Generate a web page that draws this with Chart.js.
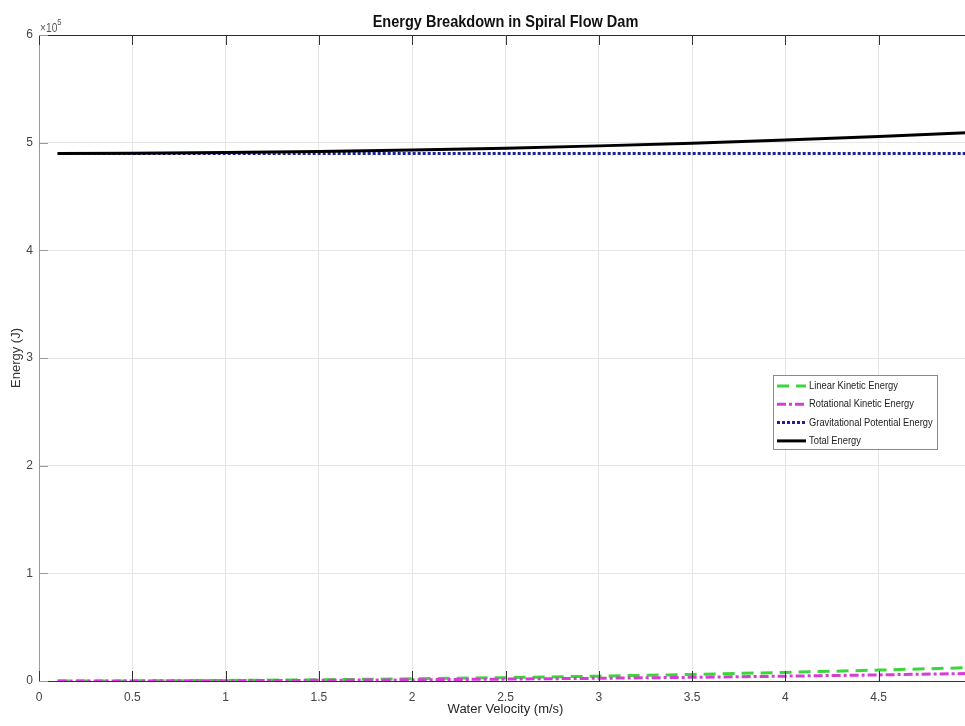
<!DOCTYPE html>
<html>
<head>
<meta charset="utf-8">
<script src="https://cdn.jsdelivr.net/npm/chart.js@4.4.1/dist/chart.umd.min.js"></script>
<style>
  html, body { margin: 0; padding: 0; background: #fff; overflow: hidden; }
  #wrap { width: 1010px; height: 726px; position: relative; }
</style>
</head>
<body>
<div id="wrap"><canvas id="energyChart"></canvas></div>
<script>
// water velocity (m/s)
const velocity = [0.1, 0.5, 1.0, 1.5, 2.0, 2.5, 3.0, 3.5, 4.0, 4.5, 5.0];
// energies (J)
const linearKE = [5, 125, 500, 1125, 2000, 3125, 4500, 6125, 8000, 10125, 12500];
const rotationalKE = [3, 70, 280, 630, 1120, 1750, 2520, 3430, 4480, 5670, 7000];
const potentialE = [490000, 490000, 490000, 490000, 490000, 490000, 490000, 490000, 490000, 490000, 490000];
const totalE = [490008, 490195, 490780, 491755, 493120, 494875, 497020, 499555, 502480, 505795, 509500];

const seriesNames = ['Linear Kinetic Energy', 'Rotational Kinetic Energy', 'Gravitational Potential Energy', 'Total Energy'];
const xTicks = [0, 0.5, 1, 1.5, 2, 2.5, 3, 3.5, 4, 4.5, 5];
const yTicks = [0, 1, 2, 3, 4, 5, 6];

const SANS = '"Liberation Sans", Arial, sans-serif';

const pairs = (ys) => velocity.map((v, i) => ({ x: v, y: ys[i] }));

// text squeezed horizontally, the figure uses a condensed face
function narrowText(ctx, text, x, y, squeeze) {
  ctx.save();
  ctx.translate(x, y);
  ctx.scale(squeeze, 1);
  ctx.fillText(text, 0, 0);
  ctx.restore();
}

const matlabFrame = {
  id: 'matlabFrame',
  afterDraw(chart) {
    const ctx = chart.ctx;
    const area = chart.chartArea;
    const xs = chart.scales.x;
    const ys = chart.scales.y;
    ctx.save();

    // top box edge
    ctx.strokeStyle = '#2b2b2b';
    ctx.lineWidth = 1;
    ctx.beginPath();
    ctx.moveTo(area.left, area.top + 0.5);
    ctx.lineTo(area.right, area.top + 0.5);
    ctx.stroke();

    // inward ticks
    ctx.strokeStyle = '#333';
    xTicks.forEach(t => {
      const px = Math.round(xs.getPixelForValue(t)) + 0.5;
      ctx.beginPath();
      ctx.moveTo(px, area.bottom); ctx.lineTo(px, area.bottom - 10);
      ctx.moveTo(px, area.top); ctx.lineTo(px, area.top + 10);
      ctx.stroke();
    });
    ctx.strokeStyle = '#999';
    yTicks.forEach(t => {
      const py = Math.round(ys.getPixelForValue(t * 1e5)) + 0.5;
      ctx.beginPath();
      ctx.moveTo(area.left, py); ctx.lineTo(area.left + 9, py);
      ctx.stroke();
    });

    // title
    ctx.fillStyle = '#111';
    ctx.font = 'bold 17px ' + SANS;
    ctx.textAlign = 'center';
    ctx.textBaseline = 'alphabetic';
    narrowText(ctx, 'Energy Breakdown in Spiral Flow Dam', (area.left + area.right) / 2, 27, 0.855);

    // exponent label
    ctx.fillStyle = '#555';
    ctx.textAlign = 'left';
    ctx.font = '12px ' + SANS;
    narrowText(ctx, '\u00d710', area.left + 1, 32, 0.85);
    const w = ctx.measureText('\u00d710').width * 0.85;
    ctx.font = '9px ' + SANS;
    narrowText(ctx, '5', area.left + 1 + w, 25, 0.85);

    // legend box
    const bx = 773, by = 375, bw = 164, bh = 74;
    ctx.fillStyle = '#fff';
    ctx.fillRect(bx, by, bw, bh);
    ctx.strokeStyle = '#8a8a8a';
    ctx.lineWidth = 1;
    ctx.strokeRect(bx + 0.5, by + 0.5, bw, bh);
    ctx.font = '11px ' + SANS;
    ctx.textBaseline = 'middle';
    chart.data.datasets.forEach((ds, i) => {
      const ry = by + 11 + i * 18.3;
      ctx.strokeStyle = ds.borderColor;
      ctx.lineWidth = ds.borderWidth;
      ctx.setLineDash(ds.borderDash || []);
      ctx.beginPath();
      ctx.moveTo(bx + 4, ry);
      ctx.lineTo(bx + 33, ry);
      ctx.stroke();
      ctx.setLineDash([]);
      ctx.fillStyle = '#222';
      narrowText(ctx, ds.label, bx + 36, ry, 0.85);
    });
    ctx.restore();
  }
};

new Chart(document.getElementById('energyChart').getContext('2d'), {
  type: 'line',
  data: {
    datasets: [
      { label: seriesNames[0], data: pairs(linearKE), borderColor: '#3cd63c', borderWidth: 3, borderDash: [12, 7], order: 4 },
      { label: seriesNames[1], data: pairs(rotationalKE), borderColor: '#d63cd6', borderWidth: 3, borderDash: [9, 3, 3, 3], order: 3 },
      { label: seriesNames[2], data: pairs(potentialE), borderColor: '#1f1f9e', borderWidth: 3, borderDash: [3, 2], order: 2 },
      { label: seriesNames[3], data: pairs(totalE), borderColor: '#000000', borderWidth: 3, order: 1 }
    ]
  },
  options: {
    responsive: true,
    maintainAspectRatio: false,
    animation: false,
    layout: { padding: { top: 35, right: 38, bottom: 0, left: 0 } },
    elements: { point: { radius: 0 }, line: { tension: 0, fill: false, borderCapStyle: 'butt' } },
    plugins: { legend: { display: false }, tooltip: { enabled: false }, title: { display: false } },
    scales: {
      x: {
        type: 'linear',
        min: 0,
        max: 5,
        afterFit: (s) => { s.height = 45; },
        afterBuildTicks: (s) => { s.ticks = xTicks.map(v => ({ value: v })); },
        grid: { color: '#e6e6e6', drawTicks: false },
        border: { color: '#333' },
        ticks: {
          padding: 9, color: '#444', font: { family: SANS, size: 12 }, maxRotation: 0, autoSkip: false,
          // the last label falls outside the cropped figure
          callback: (v) => (v >= 5 ? '' : String(v))
        },
        title: { display: true, text: 'Water Velocity (m/s)', color: '#262626', font: { family: SANS, size: 13 }, padding: { top: 0, bottom: 9 } }
      },
      y: {
        min: 0,
        max: 600000,
        afterFit: (s) => { s.width = 39; },
        afterBuildTicks: (s) => { s.ticks = yTicks.map(v => ({ value: v * 1e5 })); },
        grid: { color: '#e6e6e6', drawTicks: false },
        border: { color: '#999' },
        ticks: { padding: 6, color: '#444', font: { family: SANS, size: 12 }, callback: (v) => String(v / 1e5) },
        title: { display: true, text: 'Energy (J)', color: '#333', font: { family: SANS, size: 13 }, padding: { top: 9, bottom: 0 } }
      }
    }
  },
  plugins: [matlabFrame]
});
</script>
</body>
</html>
